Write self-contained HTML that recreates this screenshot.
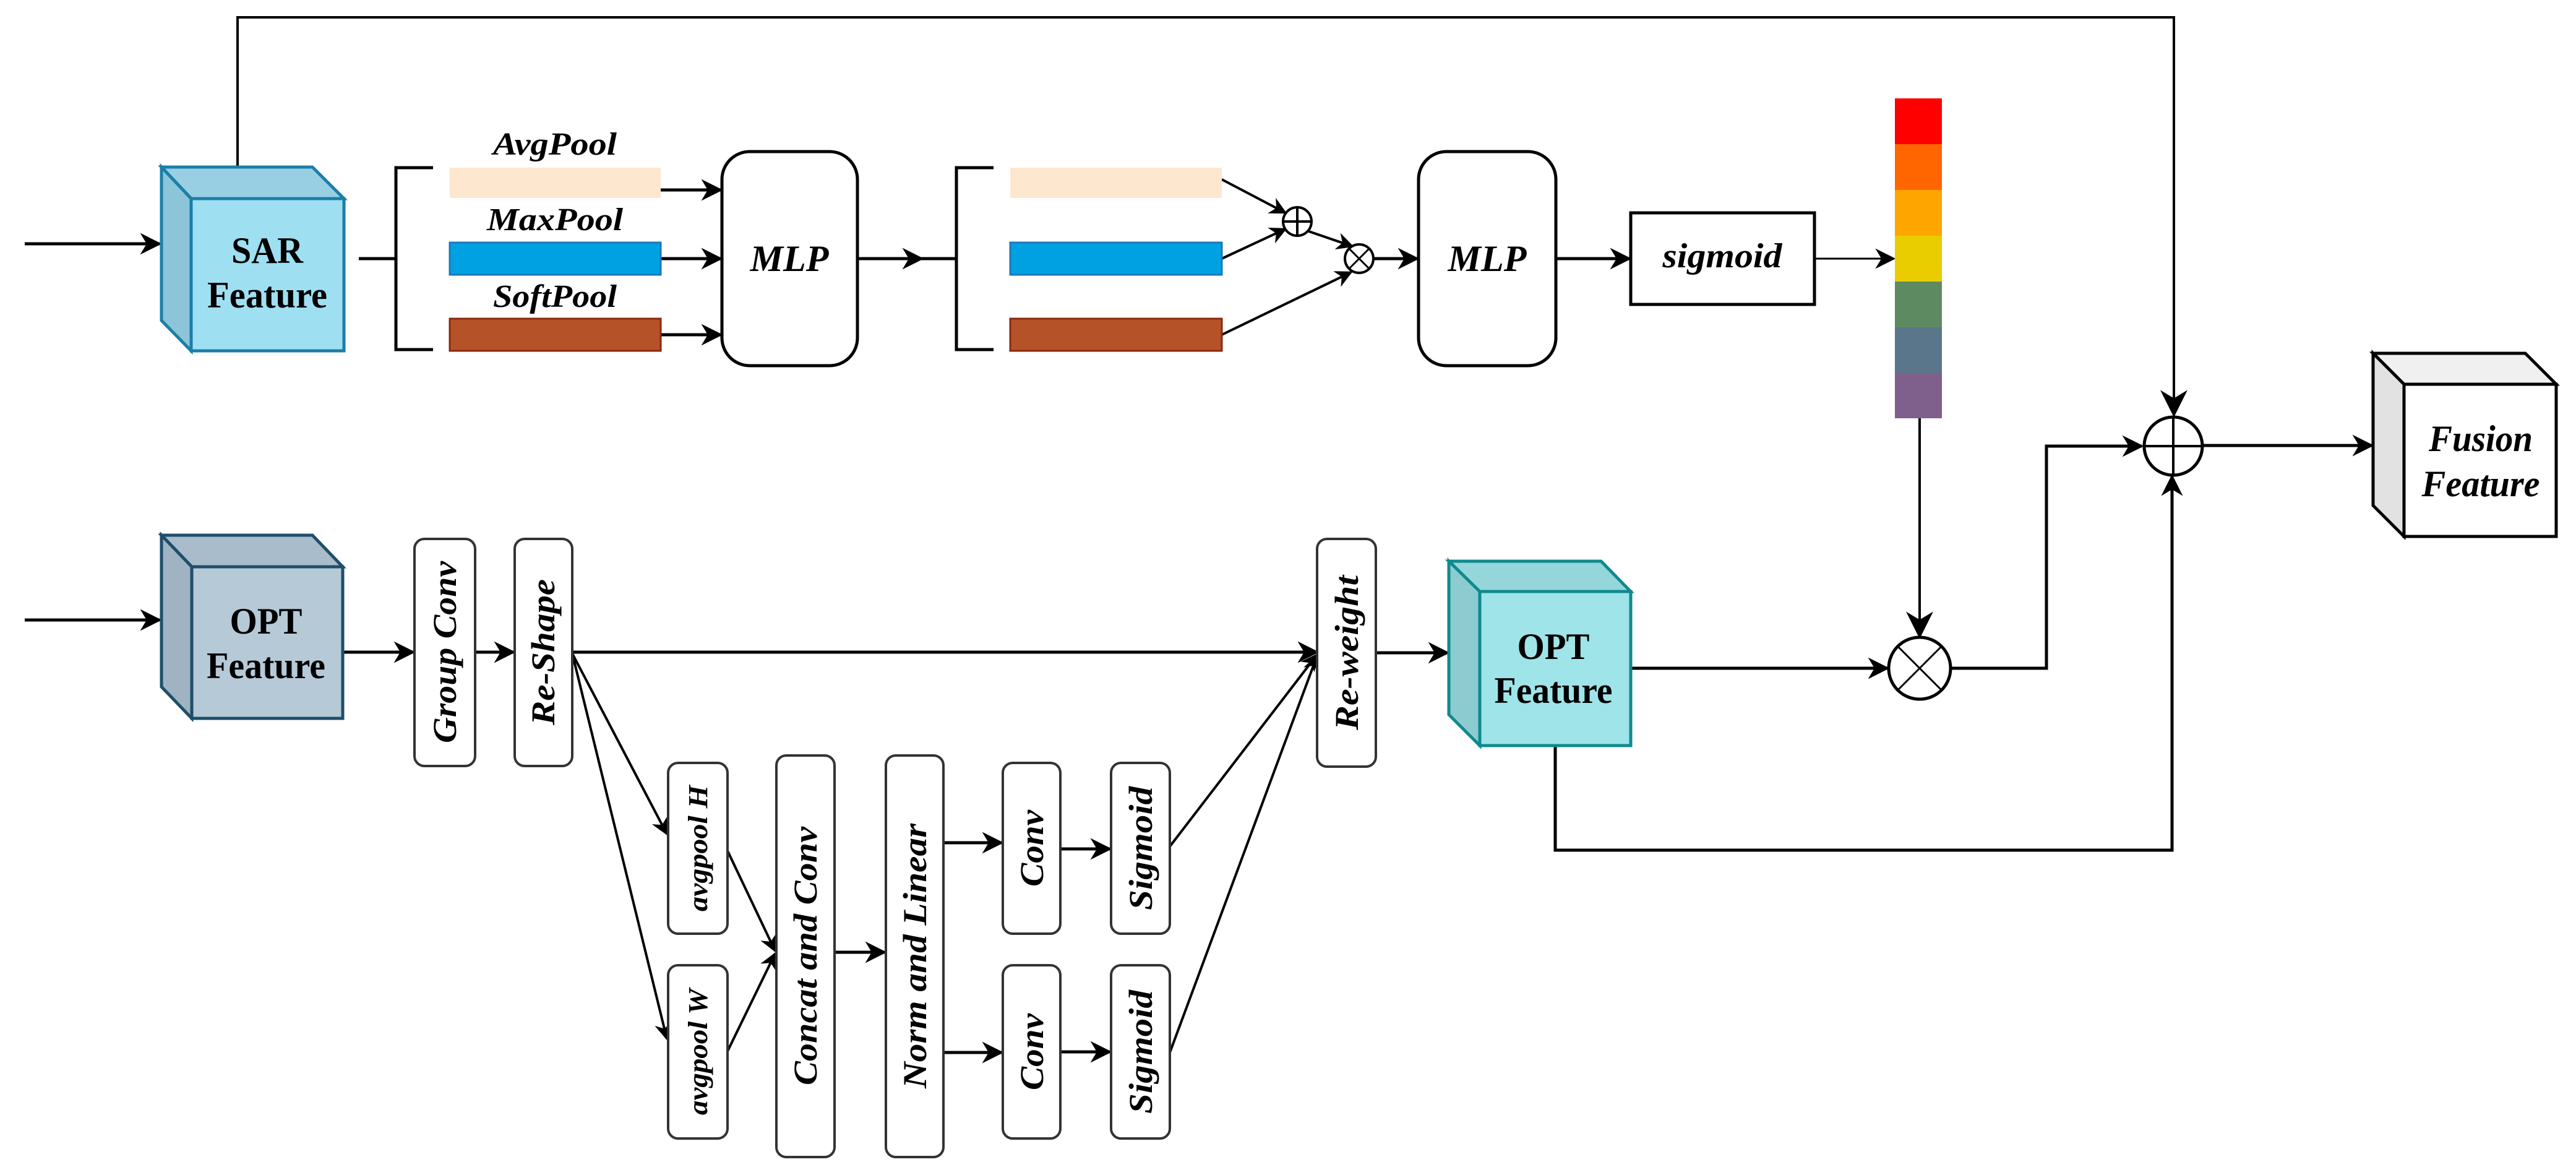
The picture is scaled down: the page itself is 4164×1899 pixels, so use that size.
<!DOCTYPE html>
<html><head><meta charset="utf-8"><style>
html,body{margin:0;padding:0;background:#fff;}
svg{display:block;}
text{font-family:"Liberation Serif",serif;font-weight:bold;fill:#000;}
.i{font-style:italic;}
</style></head><body>
<svg width="4164" height="1899" viewBox="0 0 4164 1899" xmlns="http://www.w3.org/2000/svg">
<defs>
<marker id="a" viewBox="0 0 20 20" refX="18" refY="10" markerWidth="7" markerHeight="7" markerUnits="strokeWidth" orient="auto"><path d="M0,0 L20,10 L0,20 L6,10 z" fill="#000"/></marker>
<marker id="b" viewBox="0 0 20 20" refX="18" refY="10" markerWidth="11" markerHeight="11" markerUnits="strokeWidth" orient="auto"><path d="M0,0 L20,10 L0,20 L6,10 z" fill="#000"/></marker>
</defs>
<g fill="none" stroke="#000" stroke-linecap="butt">
<!-- top skip -->
<polyline points="384,270 384,28 3514,28 3514,670" stroke-width="4" marker-end="url(#b)"/>
<!-- inputs -->
<line x1="40" y1="394" x2="258" y2="394" stroke-width="5" marker-end="url(#a)"/>
<line x1="40" y1="1002" x2="258" y2="1002" stroke-width="5" marker-end="url(#a)"/>
<!-- SAR to bracket -->
<line x1="580" y1="418" x2="640" y2="418" stroke-width="5"/>
<polyline points="700,271 640,271 640,565 700,565" stroke-width="5"/>
<line x1="1068" y1="307" x2="1165" y2="307" stroke-width="5" marker-end="url(#a)"/>
<line x1="1068" y1="418" x2="1165" y2="418" stroke-width="5" marker-end="url(#a)"/>
<line x1="1068" y1="541" x2="1165" y2="541" stroke-width="5" marker-end="url(#a)"/>
<line x1="1386" y1="418" x2="1490" y2="418" stroke-width="5" marker-end="url(#a)"/>
<line x1="1486" y1="418" x2="1546" y2="418" stroke-width="5"/>
<polyline points="1606,271 1546,271 1546,565 1606,565" stroke-width="5"/>
<line x1="1975" y1="290" x2="2078" y2="344" stroke-width="4" marker-end="url(#a)"/>
<line x1="1975" y1="418" x2="2078" y2="370" stroke-width="4" marker-end="url(#a)"/>
<line x1="2110" y1="372" x2="2186" y2="398" stroke-width="4" marker-end="url(#a)"/>
<line x1="1975" y1="541" x2="2184" y2="440" stroke-width="4" marker-end="url(#a)"/>
<line x1="2219" y1="418" x2="2291" y2="418" stroke-width="5" marker-end="url(#a)"/>
<line x1="2515" y1="418" x2="2634" y2="418" stroke-width="5" marker-end="url(#a)"/>
<line x1="2933" y1="418" x2="3061" y2="418" stroke-width="3" marker-end="url(#b)"/>
<!-- circles -->
<circle cx="2097" cy="358" r="23" stroke-width="4" fill="#fff"/>
<line x1="2074" y1="358" x2="2120" y2="358" stroke-width="4"/><line x1="2097" y1="335" x2="2097" y2="381" stroke-width="4"/>
<circle cx="2197" cy="418" r="23" stroke-width="4" fill="#fff"/>
<line x1="2181" y1="402" x2="2213" y2="434" stroke-width="3"/><line x1="2213" y1="402" x2="2181" y2="434" stroke-width="3"/>
<!-- colorbar down -->
<line x1="3103" y1="676" x2="3103" y2="1028" stroke-width="4" marker-end="url(#b)"/>
<circle cx="3103" cy="1080" r="50" stroke-width="5" fill="#fff"/>
<line x1="3068" y1="1045" x2="3138" y2="1115" stroke-width="3"/><line x1="3138" y1="1045" x2="3068" y2="1115" stroke-width="3"/>
<polyline points="3153,1080 3308,1080 3308,721 3462,721" stroke-width="5" marker-end="url(#a)"/>
<circle cx="3513" cy="721" r="47" stroke-width="5" fill="#fff"/>
<line x1="3466" y1="721" x2="3560" y2="721" stroke-width="4"/><line x1="3513" y1="674" x2="3513" y2="768" stroke-width="4"/>
<line x1="3560" y1="720" x2="3834" y2="720" stroke-width="5" marker-end="url(#a)"/>
<polyline points="2514,1205 2514,1374 3511,1374 3511,770" stroke-width="5" marker-end="url(#a)"/>
<!-- OPT row -->
<line x1="554" y1="1054" x2="668" y2="1054" stroke-width="5" marker-end="url(#a)"/>
<line x1="768" y1="1054" x2="830" y2="1054" stroke-width="5" marker-end="url(#a)"/>
<line x1="925" y1="1054" x2="2129" y2="1054" stroke-width="5" marker-end="url(#a)"/>
<line x1="2224" y1="1055" x2="2340" y2="1055" stroke-width="5" marker-end="url(#a)"/>
<line x1="2636" y1="1080" x2="3051" y2="1080" stroke-width="5" marker-end="url(#a)"/>
<line x1="925" y1="1056" x2="1078" y2="1348" stroke-width="4" marker-end="url(#a)"/>
<line x1="925" y1="1056" x2="1078" y2="1679" stroke-width="4" marker-end="url(#a)"/>
<line x1="1176" y1="1375" x2="1253" y2="1537" stroke-width="4" marker-end="url(#a)"/>
<line x1="1176" y1="1699" x2="1253" y2="1541" stroke-width="4" marker-end="url(#a)"/>
<line x1="1349" y1="1539" x2="1430" y2="1539" stroke-width="5" marker-end="url(#a)"/>
<line x1="1525" y1="1362" x2="1619" y2="1362" stroke-width="5" marker-end="url(#a)"/>
<line x1="1525" y1="1701" x2="1619" y2="1701" stroke-width="5" marker-end="url(#a)"/>
<line x1="1714" y1="1372" x2="1794" y2="1372" stroke-width="5" marker-end="url(#a)"/>
<line x1="1714" y1="1700" x2="1794" y2="1700" stroke-width="5" marker-end="url(#a)"/>
<line x1="1891" y1="1368" x2="2129" y2="1058" stroke-width="4" marker-end="url(#a)"/>
<line x1="1891" y1="1701" x2="2129" y2="1060" stroke-width="4" marker-end="url(#a)"/>
</g>
<!-- SAR cube -->
<g stroke="#1a7fa8" stroke-width="5">
<polygon points="261,270 505,270 556,321 309,321" fill="#98cfe3"/>
<polygon points="261,270 309,321 309,567 261,518" fill="#8cc4d8"/>
<rect x="309" y="321" width="247" height="246" fill="#9fdff2"/>
</g>
<text x="432" y="425" font-size="60" text-anchor="middle" textLength="116" lengthAdjust="spacingAndGlyphs">SAR</text>
<text x="432" y="497" font-size="60" text-anchor="middle" textLength="194" lengthAdjust="spacingAndGlyphs">Feature</text>
<!-- OPT cube 1 -->
<g stroke="#1f4e6a" stroke-width="5">
<polygon points="261,865 505,865 554,916 310,916" fill="#a9bccb"/>
<polygon points="261,865 310,916 310,1161 261,1110" fill="#9fb3c2"/>
<rect x="310" y="916" width="244" height="245" fill="#b6c9d7"/>
</g>
<text x="430" y="1024" font-size="60" text-anchor="middle" textLength="117" lengthAdjust="spacingAndGlyphs">OPT</text>
<text x="430" y="1096" font-size="60" text-anchor="middle" textLength="192" lengthAdjust="spacingAndGlyphs">Feature</text>
<!-- OPT cube 2 -->
<g stroke="#0e8a8e" stroke-width="5">
<polygon points="2342,907 2588,907 2636,956 2392,956" fill="#94d6da"/>
<polygon points="2342,907 2392,956 2392,1205 2342,1155" fill="#8ccbcf"/>
<rect x="2392" y="956" width="244" height="249" fill="#9fe4e8"/>
</g>
<text x="2511" y="1065" font-size="60" text-anchor="middle" textLength="117" lengthAdjust="spacingAndGlyphs">OPT</text>
<text x="2511" y="1136" font-size="60" text-anchor="middle" textLength="191" lengthAdjust="spacingAndGlyphs">Feature</text>
<!-- Fusion cube -->
<g stroke="#000" stroke-width="5">
<polygon points="3836,571 4082,571 4132,621 3886,621" fill="#f0f0f0"/>
<polygon points="3836,571 3886,621 3886,867 3836,817" fill="#e2e2e2"/>
<rect x="3886" y="621" width="246" height="246" fill="#fff"/>
</g>
<text class="i" x="4010" y="729" font-size="60" text-anchor="middle" textLength="168" lengthAdjust="spacingAndGlyphs">Fusion</text>
<text class="i" x="4010" y="802" font-size="60" text-anchor="middle" textLength="191" lengthAdjust="spacingAndGlyphs">Feature</text>
<!-- bars -->
<rect x="727" y="271" width="341" height="49" fill="#fde7cf"/>
<rect x="727" y="392" width="341" height="52" fill="#00a1e2" stroke="#1a78b8" stroke-width="3"/>
<rect x="727" y="515" width="341" height="52" fill="#b55227" stroke="#8a2a0e" stroke-width="3"/>
<rect x="1633" y="271" width="342" height="49" fill="#fde7cf"/>
<rect x="1633" y="392" width="342" height="52" fill="#00a1e2" stroke="#1a78b8" stroke-width="3"/>
<rect x="1633" y="515" width="342" height="52" fill="#b55227" stroke="#8a2a0e" stroke-width="3"/>
<text class="i" x="897" y="250" font-size="52" text-anchor="middle" textLength="200" lengthAdjust="spacingAndGlyphs">AvgPool</text>
<text class="i" x="897" y="372" font-size="52" text-anchor="middle" textLength="220" lengthAdjust="spacingAndGlyphs">MaxPool</text>
<text class="i" x="897" y="496" font-size="52" text-anchor="middle" textLength="200" lengthAdjust="spacingAndGlyphs">SoftPool</text>
<!-- MLPs -->
<rect x="1167" y="245" width="219" height="346" rx="45" fill="#fff" stroke="#000" stroke-width="5"/>
<text class="i" x="1276" y="438" font-size="60" text-anchor="middle" textLength="127" lengthAdjust="spacingAndGlyphs">MLP</text>
<rect x="2293" y="245" width="222" height="346" rx="45" fill="#fff" stroke="#000" stroke-width="5"/>
<text class="i" x="2404" y="438" font-size="60" text-anchor="middle" textLength="127" lengthAdjust="spacingAndGlyphs">MLP</text>
<rect x="2636" y="344" width="297" height="148" fill="#fff" stroke="#000" stroke-width="5"/>
<text class="i" x="2784" y="432" font-size="56" text-anchor="middle" textLength="193" lengthAdjust="spacingAndGlyphs">sigmoid</text>
<!-- colorbar -->
<rect x="3063" y="159" width="76" height="74" fill="#ff0000"/>
<rect x="3063" y="233" width="76" height="74" fill="#ff6600"/>
<rect x="3063" y="307" width="76" height="74" fill="#ffa500"/>
<rect x="3063" y="381" width="76" height="74" fill="#e9cd00"/>
<rect x="3063" y="455" width="76" height="74" fill="#5e8a62"/>
<rect x="3063" y="529" width="76" height="74" fill="#5a768a"/>
<rect x="3063" y="603" width="76" height="73" fill="#7f5f8c"/>
<!-- vertical boxes -->
<g fill="#fff" stroke="#333" stroke-width="4">
<rect x="670" y="871" width="98" height="367" rx="16"/>
<rect x="832" y="871" width="93" height="367" rx="16"/>
<rect x="2129" y="871" width="95" height="368" rx="16"/>
<rect x="1080" y="1233" width="96" height="276" rx="16"/>
<rect x="1080" y="1560" width="96" height="280" rx="16"/>
<rect x="1255" y="1221" width="94" height="649" rx="16"/>
<rect x="1432" y="1221" width="93" height="649" rx="16"/>
<rect x="1621" y="1233" width="93" height="276" rx="16"/>
<rect x="1621" y="1560" width="93" height="280" rx="16"/>
<rect x="1796" y="1233" width="95" height="276" rx="16"/>
<rect x="1796" y="1560" width="95" height="280" rx="16"/>
</g>
<g class="i" font-style="italic">
<text transform="translate(737,1054) rotate(-90)" font-size="54" text-anchor="middle" textLength="294" lengthAdjust="spacingAndGlyphs">Group Conv</text>
<text transform="translate(896,1054) rotate(-90)" font-size="54" text-anchor="middle" textLength="236" lengthAdjust="spacingAndGlyphs">Re-Shape</text>
<text transform="translate(2195,1055) rotate(-90)" font-size="54" text-anchor="middle" textLength="250" lengthAdjust="spacingAndGlyphs">Re-weight</text>
<text transform="translate(1143,1371) rotate(-90)" font-size="44" text-anchor="middle" textLength="204" lengthAdjust="spacingAndGlyphs">avgpool H</text>
<text transform="translate(1143,1700) rotate(-90)" font-size="44" text-anchor="middle" textLength="204" lengthAdjust="spacingAndGlyphs">avgpool W</text>
<text transform="translate(1320,1545) rotate(-90)" font-size="54" text-anchor="middle" textLength="418" lengthAdjust="spacingAndGlyphs">Concat and Conv</text>
<text transform="translate(1497,1545) rotate(-90)" font-size="54" text-anchor="middle" textLength="428" lengthAdjust="spacingAndGlyphs">Norm and Linear</text>
<text transform="translate(1686,1371) rotate(-90)" font-size="54" text-anchor="middle" textLength="124" lengthAdjust="spacingAndGlyphs">Conv</text>
<text transform="translate(1686,1700) rotate(-90)" font-size="54" text-anchor="middle" textLength="124" lengthAdjust="spacingAndGlyphs">Conv</text>
<text transform="translate(1862,1371) rotate(-90)" font-size="54" text-anchor="middle" textLength="200" lengthAdjust="spacingAndGlyphs">Sigmoid</text>
<text transform="translate(1862,1700) rotate(-90)" font-size="54" text-anchor="middle" textLength="200" lengthAdjust="spacingAndGlyphs">Sigmoid</text>
</g>
</svg>
</body></html>
